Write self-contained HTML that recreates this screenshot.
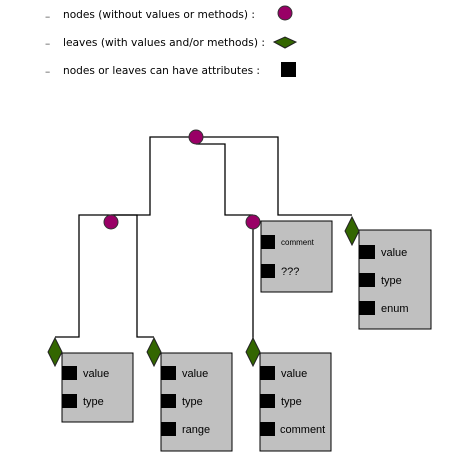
<!DOCTYPE html>
<html><head><style>body{margin:0;background:#fff}svg{display:block}</style></head><body>
<svg width="457" height="466" viewBox="0 0 457 466" xmlns="http://www.w3.org/2000/svg" font-family="Liberation Sans, sans-serif">
<g font-family="DejaVu Sans, sans-serif" font-size="10.5" fill="#000">
<text x="45" y="20" fill="#555">–</text><text x="63" y="18" textLength="192" lengthAdjust="spacingAndGlyphs">nodes (without values or methods) :</text>
<text x="45" y="47" fill="#555">–</text><text x="63" y="46" textLength="202" lengthAdjust="spacingAndGlyphs">leaves (with values and/or methods) :</text>
<text x="45" y="75" fill="#555">–</text><text x="63" y="74" textLength="197" lengthAdjust="spacingAndGlyphs">nodes or leaves can have attributes :</text>
</g>
<circle cx="285" cy="13" r="7" fill="#990066" stroke="#333"/>
<polygon points="274,42 285,37 296,42 285,48" fill="#336600" stroke="#222"/>
<rect x="281" y="62" width="15" height="15" fill="#000"/>
<g stroke="#000" stroke-width="1.3" fill="none">
<polyline points="196,137 150,137 150,215 111,215"/>
<polyline points="196,137 278,137 278,215 352,215"/>
<polyline points="196,144 225,144 225,215 253,215"/>
<polyline points="111,215 79,215 79,337 55,337"/>
<polyline points="111,215 137,215 137,337 154,337"/>
<line x1="253" y1="222" x2="253" y2="345"/>
</g>
<g fill="#c0c0c0" stroke="#000" stroke-width="1">
<rect x="261" y="221" width="71" height="71"/>
<rect x="359" y="230" width="72" height="99"/>
<rect x="62" y="353" width="71" height="69"/>
<rect x="161" y="353" width="71" height="98"/>
<rect x="260" y="353" width="71" height="98"/>
</g>
<g fill="#990066" stroke="#333">
<circle cx="196" cy="137" r="7"/><circle cx="111" cy="222" r="7"/><circle cx="253" cy="222" r="7"/>
</g>
<g fill="#336600" stroke="#222">
<polygon points="352,217 359,231 352,245 345,231"/>
<polygon points="55,338 62,352 55,366 48,352"/>
<polygon points="154,338 161,352 154,366 147,352"/>
<polygon points="253,338 260,352 253,366 246,352"/>
</g>
<g fill="#000">
<rect x="261" y="235" width="14" height="14"/><rect x="261" y="264" width="14" height="14"/>
<rect x="359" y="245" width="16" height="14"/><rect x="359" y="273" width="16" height="14"/><rect x="359" y="301" width="16" height="14"/>
<rect x="62" y="366" width="15" height="14"/><rect x="62" y="394" width="15" height="14"/>
<rect x="161" y="366" width="15" height="14"/><rect x="161" y="394" width="15" height="14"/><rect x="161" y="422" width="15" height="14"/>
<rect x="260" y="366" width="15" height="14"/><rect x="260" y="394" width="15" height="14"/><rect x="260" y="422" width="15" height="14"/>
</g>
<g font-size="11" fill="#000">
<text x="281" y="245" font-size="8">comment</text><text x="281" y="275">???</text>
<text x="381" y="256">value</text><text x="381" y="284">type</text><text x="381" y="312">enum</text>
<text x="83" y="377">value</text><text x="83" y="405">type</text>
<text x="182" y="377">value</text><text x="182" y="405">type</text><text x="182" y="433">range</text>
<text x="281" y="377">value</text><text x="281" y="405">type</text><text x="280" y="433">comment</text>
</g>
</svg>
</body></html>
